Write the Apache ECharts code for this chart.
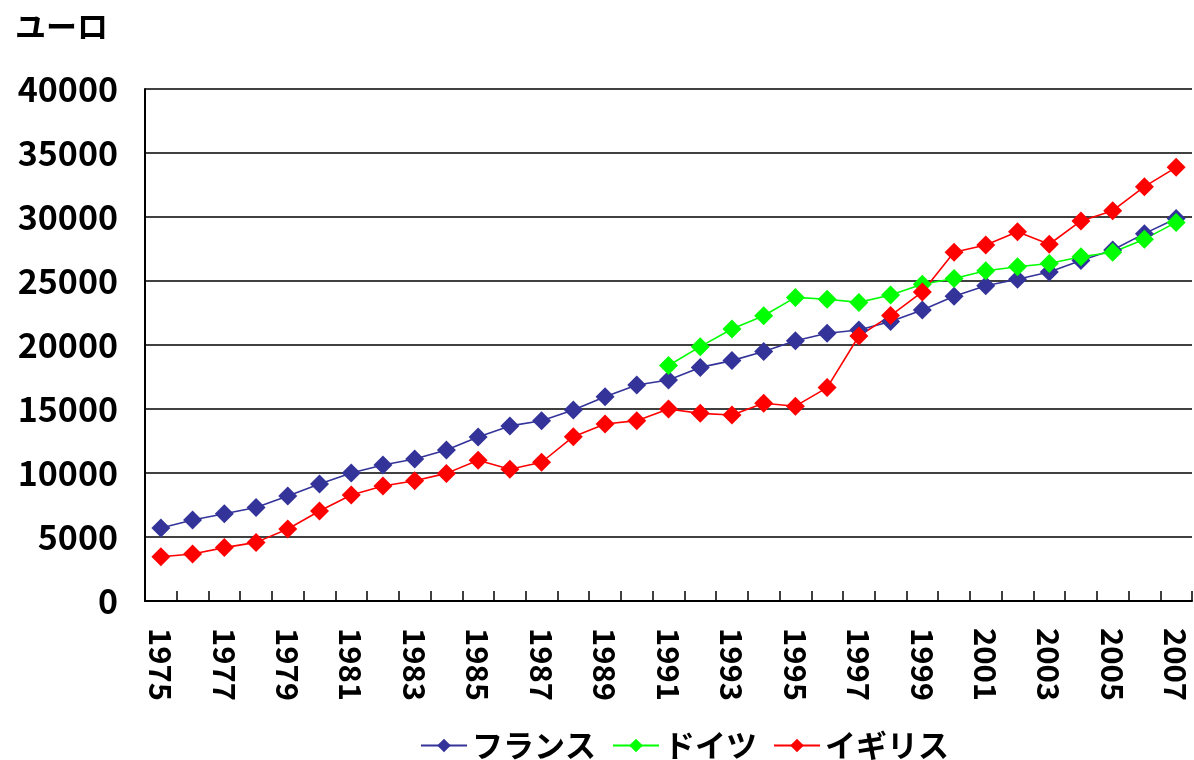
<!DOCTYPE html>
<html>
<head>
<meta charset="utf-8">
<script src="https://cdn.jsdelivr.net/npm/echarts@6/dist/echarts.min.js"></script>
<style>
  html, body { margin: 0; padding: 0; background: #fff; }
  #chart { width: 1194px; height: 760px; }
</style>
</head>
<body>
<div id="chart"></div>
<script>
// 一人当たりGDP(ユーロ)の推移
const years = ['1975','1976','1977','1978','1979','1980','1981','1982','1983','1984','1985',
  '1986','1987','1988','1989','1990','1991','1992','1993','1994','1995','1996','1997','1998',
  '1999','2000','2001','2002','2003','2004','2005','2006','2007'];

const france = [5700, 6330, 6820, 7300, 8200, 9140, 10000, 10630, 11090, 11800, 12820,
  13680, 14080, 14920, 15950, 16880, 17270, 18250, 18780, 19490, 20330, 20920, 21170, 21830,
  22730, 23810, 24630, 25140, 25700, 26600, 27420, 28700, 29880];

const germany = [null, null, null, null, null, null, null, null, null, null, null,
  null, null, null, null, null, 18400, 19870, 21250, 22280, 23720, 23570, 23330, 23900,
  24740, 25200, 25800, 26110, 26370, 26900, 27240, 28270, 29580];

const uk = [3460, 3670, 4170, 4580, 5620, 7030, 8280, 8980, 9400, 9970, 11000,
  10290, 10840, 12840, 13830, 14090, 15000, 14660, 14530, 15450, 15220, 16670, 20700, 22300,
  24150, 27240, 27820, 28850, 27870, 29690, 30490, 32370, 33880];

const seriesNames = ['フランス', 'ドイツ', 'イギリス'];
const seriesColors = ['#333399', '#00ff00', '#ff0000'];

const FONT = '"Noto Sans CJK JP", "Noto Sans", sans-serif';

const chart = echarts.init(document.getElementById('chart'), null, { renderer: 'canvas' });

function lineSeries(name, data, color) {
  return {
    name: name,
    type: 'line',
    data: data,
    symbol: 'diamond',
    symbolSize: 19,
    showAllSymbol: true,
    connectNulls: false,
    lineStyle: { color: color, width: 1.6 },
    itemStyle: { color: color },
    emphasis: { disabled: true },
    animation: false
  };
}

chart.setOption({
  backgroundColor: '#ffffff',
  animation: false,
  title: {
    text: 'ユーロ',
    left: 10,
    top: 6,
    textStyle: { fontFamily: FONT, fontSize: 31, fontWeight: 'bold', color: '#000' }
  },
  grid: { left: 145, right: 2, top: 89, bottom: 159, containLabel: false },
  legend: {
    data: seriesNames,
    left: 415,
    top: 725,
    itemWidth: 46,
    itemHeight: 17,
    itemGap: 16,
    textStyle: { fontFamily: FONT, fontSize: 31, fontWeight: 'bold', color: '#000' }
  },
  xAxis: {
    type: 'category',
    data: years,
    boundaryGap: true,
    axisLine: { show: true, lineStyle: { color: '#000', width: 2 } },
    axisTick: { show: true, inside: true, length: 10, interval: 0, lineStyle: { color: '#000', width: 1.5 } },
    axisLabel: {
      interval: 1,
      rotate: -90,
      margin: 27,
      fontFamily: FONT,
      fontSize: 31,
      fontWeight: 'bold',
      color: '#000'
    },
    splitLine: { show: false }
  },
  yAxis: {
    type: 'value',
    min: 0,
    max: 40000,
    interval: 5000,
    axisLine: { show: true, lineStyle: { color: '#000', width: 2 } },
    axisTick: { show: false },
    axisLabel: {
      margin: 27,
      fontFamily: FONT,
      fontSize: 34,
      fontWeight: 'bold',
      color: '#000',
      formatter: function (v) { return String(v); }
    },
    splitLine: { show: true, lineStyle: { color: '#000', width: 1.5 } }
  },
  series: [
    lineSeries(seriesNames[0], france, seriesColors[0]),
    lineSeries(seriesNames[1], germany, seriesColors[1]),
    lineSeries(seriesNames[2], uk, seriesColors[2])
  ]
});
</script>
</body>
</html>
